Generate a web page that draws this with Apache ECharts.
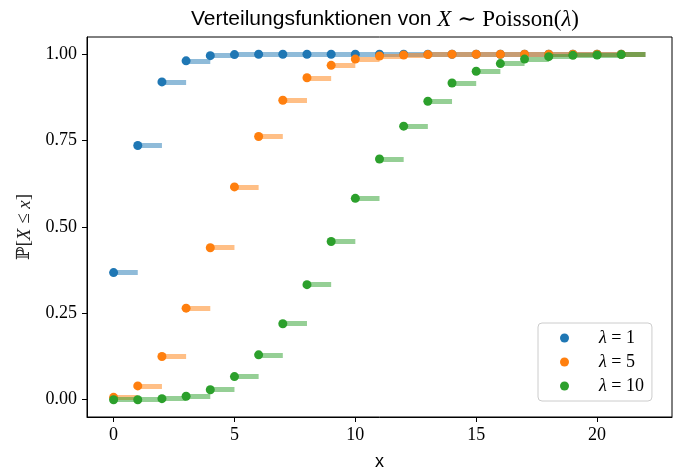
<!DOCTYPE html>
<html>
<head>
<meta charset="utf-8">
<script src="https://cdn.jsdelivr.net/npm/echarts@6/dist/echarts.min.js"></script>
<style>
  html, body { margin: 0; padding: 0; background: #fff; }
  #chart { width: 679px; height: 468px; }
</style>
</head>
<body>
<div id="chart"></div>
<script>
// Werte der Verteilungsfunktionen
var ks = [0, 1, 2, 3, 4, 5, 6, 7, 8, 9, 10, 11, 12, 13, 14, 15, 16, 17, 18, 19, 20, 21];
var cdfLambda1 = [0.368, 0.736, 0.920, 0.981, 0.996, 0.999, 1.000, 1.000, 1.000, 1.000, 1.000,
                  1.000, 1.000, 1.000, 1.000, 1.000, 1.000, 1.000, 1.000, 1.000, 1.000, 1.000];
var cdfLambda5 = [0.007, 0.040, 0.125, 0.265, 0.440, 0.616, 0.762, 0.867, 0.932, 0.968, 0.986,
                  0.995, 0.998, 0.999, 1.000, 1.000, 1.000, 1.000, 1.000, 1.000, 1.000, 1.000];
var cdfLambda10 = [0.000, 0.000, 0.003, 0.010, 0.029, 0.067, 0.130, 0.220, 0.333, 0.458, 0.583,
                   0.697, 0.792, 0.864, 0.917, 0.951, 0.973, 0.986, 0.993, 0.997, 0.998, 0.999];
var seriesNames = ['λ = 1', 'λ = 5', 'λ = 10'];
var xTicks = [0, 5, 10, 15, 20];
var yTicks = [0, 0.25, 0.5, 0.75, 1.0];

var colors = ['#1f77b4', '#ff7f0e', '#2ca02c'];
var serif = '"Liberation Serif", "DejaVu Serif", serif';
var sans = '"Liberation Sans", "DejaVu Sans", sans-serif';

var myChart = echarts.init(document.getElementById('chart'));

var allCdfs = [cdfLambda1, cdfLambda5, cdfLambda10];
var series = [];
allCdfs.forEach(function (cdf, i) {
    // horizontale Stufen von k bis k+1
    series.push({
        name: seriesNames[i] + ' stufen',
        type: 'lines',
        coordinateSystem: 'cartesian2d',
        polyline: false,
        silent: true,
        z: 2 + i * 2,
        lineStyle: { color: colors[i], width: 5, opacity: 0.5, cap: 'butt' },
        data: ks.map(function (k, j) {
            return { coords: [[k, cdf[j]], [k + 1, cdf[j]]] };
        })
    });
    series.push({
        name: seriesNames[i],
        type: 'scatter',
        symbol: 'circle',
        symbolSize: 9,
        z: 3 + i * 2,
        itemStyle: { color: colors[i], opacity: 1 },
        data: ks.map(function (k, j) { return [k, cdf[j]]; })
    });
});

var option = {
    animation: false,
    title: {
        text: '{s|Verteilungsfunktionen von }{i|X}{m| ∼ Poisson(}{i|λ}{m|)}',
        left: 380,
        top: 3,
        textAlign: 'center',
        textStyle: {
            fontWeight: 'normal',
            rich: {
                s: { fontFamily: sans, fontSize: 21, fontWeight: 'normal', color: '#000' },
                i: { fontFamily: serif, fontSize: 23, fontStyle: 'italic', fontWeight: 'normal', color: '#000' },
                m: { fontFamily: serif, fontSize: 23, fontWeight: 'normal', color: '#000' }
            }
        }
    },
    legend: {
        orient: 'vertical',
        left: 538,
        top: 323,
        data: seriesNames,
        icon: 'circle',
        itemWidth: 9,
        itemHeight: 9,
        itemGap: 6,
        padding: [6, 8, 6, 22],
        backgroundColor: 'rgba(255,255,255,0.8)',
        borderColor: '#cccccc',
        borderWidth: 1,
        borderRadius: 4,
        formatter: function (name) {
            return '{i|λ}{m| = ' + name.split('= ')[1] + '}';
        },
        textStyle: {
            padding: [0, 0, 0, 25],
            rich: {
                i: { fontFamily: serif, fontSize: 18, fontStyle: 'italic', color: '#000' },
                m: { fontFamily: serif, fontSize: 18, color: '#000' }
            }
        }
    },
    grid: {
        left: 87,
        right: 7,
        top: 37,
        bottom: 51,
        outerBoundsMode: 'none',
        show: true,
        borderColor: '#000',
        borderWidth: 1,
        backgroundColor: 'transparent'
    },
    xAxis: {
        type: 'value',
        min: -1.1,
        max: 23.1,
        name: 'x',
        nameLocation: 'middle',
        nameGap: 36,
        nameTextStyle: { fontFamily: sans, fontSize: 18, color: '#000' },
        splitLine: { show: false },
        axisLine: { show: true, onZero: false, lineStyle: { color: '#000', width: 1 } },
        axisTick: { show: true, length: 5, lineStyle: { color: '#000' }, customValues: xTicks },
        axisLabel: { margin: 9, fontFamily: serif, fontSize: 18, color: '#000', customValues: xTicks }
    },
    yAxis: {
        type: 'value',
        min: -0.05,
        max: 1.05,
        name: '{b|ℙ}{m|[}{i|X}{m| ≤ }{i|x}{m|]}',
        nameLocation: 'middle',
        nameRotate: 90,
        nameGap: 53,
        nameTextStyle: {
            rich: {
                b: { fontFamily: '"DejaVu Serif", serif', fontSize: 18, color: '#222' },
                i: { fontFamily: serif, fontSize: 19, fontStyle: 'italic', color: '#222' },
                m: { fontFamily: serif, fontSize: 19, color: '#222' }
            }
        },
        splitLine: { show: false },
        axisLine: { show: true, onZero: false, lineStyle: { color: '#000', width: 1 } },
        axisTick: { show: true, length: 5, lineStyle: { color: '#000' }, customValues: yTicks },
        axisLabel: {
            margin: 10,
            fontFamily: serif,
            fontSize: 18,
            color: '#000',
            customValues: yTicks,
            formatter: function (v) { return v.toFixed(2); }
        }
    },
    series: series
};

myChart.setOption(option);
</script>
</body>
</html>
